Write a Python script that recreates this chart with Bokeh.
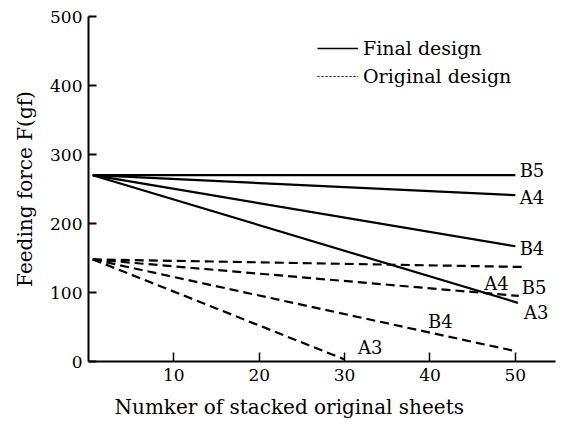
from bokeh.plotting import figure
from bokeh.models import Range1d, FixedTicker, Legend, LegendItem, Title
from bokeh.core.properties import value
from bokeh.embed import file_html
from bokeh.resources import INLINE

FONT = "DejaVu Serif"
NAN = float("nan")

# Data
final_names = ["B5", "A4", "B4", "A3"]
final_x0 = [0.5, 0.5, 0.5, 0.5]
final_y0 = [270, 270, 270, 270]
final_x1 = [50, 50, 50, 50.3]
final_y1 = [270, 241, 167, 85]

orig_names = ["B5", "A4", "B4", "A3"]
orig_x0 = [0.5, 0.5, 0.5, 0.5]
orig_y0 = [148, 148, 148, 148]
orig_x1 = [50.8, 50.4, 50, 30]
orig_y1 = [137, 95, 15, 3]

x_ticks = [10, 20, 30, 40, 50]
y_ticks = [0, 100, 200, 300, 400, 500]

x_title = "Numker of stacked original sheets"
y_title = "Feeding force F(gf)"

# label anchor positions (data coords)
final_lab_x = [50.5, 50.5, 50.5, 51.0]
final_lab_y = [277, 238, 164, 71]
orig_lab_x = [52.2, 47.8, 41.2, 33.0]
orig_lab_y = [107, 113, 58, 20]

p = figure(width=556, height=428, output_backend="svg", toolbar_location=None,
           x_range=Range1d(0, 54.7), y_range=Range1d(0, 500),
           min_border_left=88, min_border_right=1, min_border_top=16, min_border_bottom=67)
p.outline_line_color = None
p.grid.visible = False

for ax in (p.xaxis[0], p.yaxis[0]):
    ax.axis_line_width = 2
    ax.major_tick_out = 0
    ax.minor_tick_line_color = None
    ax.major_label_text_font = FONT
    ax.major_label_text_font_size = "17px"
    ax.major_label_text_color = "black"
    ax.axis_label_text_font = FONT
    ax.axis_label_text_font_size = "20px"
    ax.axis_label_text_font_style = "normal"
    ax.axis_label_text_color = "black"
    ax.axis_line_color = "black"
    ax.major_tick_line_color = "black"

p.yaxis.major_tick_line_width = 2
p.yaxis.major_tick_in = 8
p.xaxis.major_tick_line_width = 1.5
p.xaxis.major_tick_in = 9

p.xaxis.ticker = FixedTicker(ticks=x_ticks)
p.yaxis.ticker = FixedTicker(ticks=y_ticks)
p.xaxis.major_label_standoff = 7
p.yaxis.major_label_standoff = 6
p.yaxis.axis_label = y_title
p.yaxis.axis_label_standoff = 10

# x title as a below-title so it can sit left of centre, as in the reference
p.add_layout(Title(text=x_title, align="left", offset=26, standoff=18,
                   text_font=FONT, text_font_size="20px", text_font_style="normal",
                   text_color="black"),
             "below")

for i in range(len(final_names)):
    p.line([final_x0[i], final_x1[i]], [final_y0[i], final_y1[i]], line_color="black", line_width=2.2)
for i in range(len(orig_names)):
    p.line([orig_x0[i], orig_x1[i]], [orig_y0[i], orig_y1[i]], line_color="black", line_width=2.2,
           line_dash="9 5")

p.text(final_lab_x, final_lab_y, text=final_names, text_font=value(FONT), text_font_size="18px",
       text_baseline="middle", text_align="left", text_color="black")
p.text(orig_lab_x, orig_lab_y, text=orig_names, text_font=value(FONT), text_font_size="18px",
       text_baseline="middle", text_align="center", text_color="black")

# legend proxies
r1 = p.line([NAN, NAN], [NAN, NAN], line_color="black", line_width=1.5)
r2 = p.line([NAN, NAN], [NAN, NAN], line_color="black", line_width=1.2, line_dash="2 2")
legend = Legend(items=[LegendItem(label="Final design", renderers=[r1]),
                       LegendItem(label="Original design", renderers=[r2])],
                location=(229, 271), border_line_color=None, background_fill_alpha=0,
                padding=0, margin=0, spacing=0, glyph_width=41, glyph_height=28,
                label_height=28, label_standoff=5, label_text_color="black",
                label_text_font=FONT, label_text_font_size="19px")
p.add_layout(legend)

open("out.html", "w").write(file_html(p, INLINE))
